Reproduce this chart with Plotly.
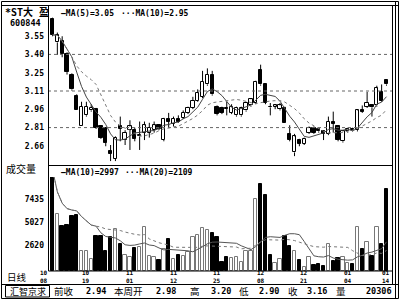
import plotly.graph_objects as go
import pandas as pd

# ---------------- data ----------------
opens = [3.69, 3.50, 3.51, 3.41, 3.24, 3.07, 2.82, 2.91, 2.95, 2.96,
         2.82, 2.81, 2.62, 2.56, 2.82, 2.71, 2.79, 2.79, 2.74, 2.77,
         2.77, 2.79, 2.83, 2.71, 2.88, 2.84, 2.88, 2.89, 2.93, 2.97,
         3.03, 3.06, 3.16, 3.24, 2.98, 2.97, 2.97, 2.93, 2.91, 2.91,
         2.95, 2.99, 3.01, 3.28, 3.16, 2.98, 2.98, 2.96, 2.97, 2.76,
         2.61, 2.71, 2.68, 2.77, 2.81, 2.80, 2.78, 2.76, 2.86, 2.82,
         2.70, 2.78, 2.80, 2.79, 2.95, 2.98, 2.99, 2.99, 3.10, 3.20]
highs = [3.70, 3.58, 3.55, 3.42, 3.25, 3.08, 3.02, 3.02, 3.00, 2.97,
         2.83, 2.81, 2.67, 2.74, 2.90, 2.79, 2.87, 2.81, 2.86, 2.86,
         2.85, 2.86, 2.84, 2.89, 2.93, 2.90, 2.91, 2.95, 2.98, 3.06,
         3.12, 3.27, 3.29, 3.27, 2.99, 2.98, 3.02, 3.00, 2.98, 2.98,
         3.02, 3.05, 3.19, 3.32, 3.17, 3.01, 3.00, 3.01, 2.98, 2.83,
         2.76, 2.72, 2.73, 2.82, 2.82, 2.81, 2.79, 2.90, 2.94, 2.83,
         2.79, 2.81, 2.81, 2.96, 2.99, 3.10, 3.00, 3.15, 3.16, 3.20]
lows = [3.55, 3.40, 3.38, 3.24, 3.11, 2.95, 2.82, 2.90, 2.94, 2.80,
        2.72, 2.66, 2.54, 2.54, 2.70, 2.67, 2.63, 2.70, 2.63, 2.71,
        2.73, 2.77, 2.79, 2.70, 2.81, 2.82, 2.85, 2.88, 2.92, 2.96,
        3.02, 3.05, 3.15, 3.07, 2.91, 2.92, 2.91, 2.92, 2.90, 2.90,
        2.94, 2.98, 3.00, 3.15, 3.00, 2.91, 2.96, 2.95, 2.85, 2.70,
        2.58, 2.66, 2.67, 2.76, 2.76, 2.77, 2.71, 2.75, 2.77, 2.70,
        2.69, 2.77, 2.78, 2.78, 2.93, 2.97, 2.90, 2.98, 3.02, 3.15]
closes = [3.56, 3.56, 3.41, 3.26, 3.12, 2.95, 2.98, 2.98, 2.97, 2.81,
          2.73, 2.69, 2.60, 2.73, 2.80, 2.77, 2.82, 2.72, 2.75, 2.83,
          2.81, 2.83, 2.80, 2.88, 2.86, 2.88, 2.86, 2.93, 2.97, 3.03,
          3.09, 3.18, 3.24, 3.08, 2.92, 2.93, 2.965, 2.98, 2.97, 2.97,
          3.01, 3.04, 3.18, 3.16, 3.01, 2.975, 2.99, 2.99, 2.85, 2.71,
          2.74, 2.68, 2.72, 2.81, 2.77, 2.78, 2.76, 2.86, 2.84, 2.71,
          2.78, 2.80, 2.79, 2.95, 2.94, 3.01, 2.975, 3.13, 3.03, 3.16]
volumes = [10500, 5890, 4650, 4790, 5690, 5790, 2100, 2070, 1270, 3620,
           3620, 2100, 3550, 4340, 2790, 1650, 1450, 2410, 2480, 4550,
           1550, 1480, 1140, 2310, 3340, 1270, 1690, 1600, 1960, 3520,
           3770, 4450, 4240, 3960, 3520, 930, 1480, 1340, 1450, 930,
           2120, 2120, 7440, 9000, 7910, 1650, 830, 1270, 3620, 2590,
           2100, 1140, 410, 1450, 620, 720, 520, 2790, 1070, 1340,
           1450, 830, 720, 4550, 2270, 3000, 1550, 4550, 2790, 8480]

price_tick_vals = [3.551, 3.403, 3.255, 3.107, 2.959, 2.811, 2.663]
price_tick_text = ["3.55", "3.40", "3.25", "3.11", "2.96", "2.81", "2.66"]
price_grid_levels = [3.403, 3.107, 2.811]
vol_tick_vals = [2620, 5027, 7435]
vol_tick_text = ["2620", "5027", "7435"]
date_pos = [7, 16, 25, 34, 43, 52, 61, 69]
date_month = ["10", "11", "11", "11", "12", "12", "01", "01"]
date_day = ["19", "01", "12", "25", "08", "21", "04", "14"]
first_date = ["10", "08"]   # drawn left of the first bar, at the panel edge

stock_name = "*ST大 盈"
stock_code = "600844"
ma_price_labels = ["—MA(5)=3.05", "···MA(10)=2.95"]
vol_title = "成交量"
ma_vol_labels = ["—MA(10)=2997", "···MA(20)=2109"]
period_label = "日线"
status_box = "汇智京求"
status_labels = ["前收", "本周开", "高", "低", "收", "量"]
status_values = ["2.94", "2.98", "3.20", "2.90", "3.16", "20306"]

# ---------------- derived ----------------
n = len(closes)
idx = list(range(n))
cs = pd.Series(closes)
vs = pd.Series(volumes)
ma5 = cs.rolling(5, min_periods=1).mean()
ma10 = cs.rolling(10, min_periods=1).mean()
vma10 = vs.rolling(10, min_periods=1).mean()
vma20 = vs.rolling(20, min_periods=1).mean()

W, H = 400, 300
MONO = "DejaVu Sans Mono"
CJK = "Noto Sans CJK SC"
px_x = lambda v: v / W
px_y = lambda v: 1 - v / H

fig = go.Figure()

# wicks (segments outside the body)
wx, wy = [], []
for i in idx:
    lo_b = min(opens[i], closes[i]); hi_b = max(opens[i], closes[i])
    if lows[i] < lo_b:
        wx += [i, i, None]; wy += [lows[i], lo_b, None]
    if highs[i] > hi_b:
        wx += [i, i, None]; wy += [hi_b, highs[i], None]
fig.add_trace(go.Scatter(x=wx, y=wy, mode="lines", line=dict(color="black", width=1),
                         hoverinfo="skip", showlegend=False, xaxis="x", yaxis="y"))

up = [i for i in idx if closes[i] >= opens[i]]
dn = [i for i in idx if closes[i] < opens[i]]
for sel, fill, edge in [(up, "white", "black"), (dn, "black", "black")]:
    fig.add_trace(go.Bar(
        x=sel,
        base=[min(opens[i], closes[i]) for i in sel],
        y=[max(abs(closes[i] - opens[i]), 0.005) for i in sel],
        width=0.68, marker=dict(color=fill, line=dict(color=edge, width=1)),
        showlegend=False, xaxis="x", yaxis="y"))

fig.add_trace(go.Scatter(x=idx, y=ma5, mode="lines", line=dict(color="#444", width=1),
                         showlegend=False, xaxis="x", yaxis="y"))
fig.add_trace(go.Scatter(x=idx, y=ma10, mode="lines", line=dict(color="#777", width=1, dash="dot"),
                         showlegend=False, xaxis="x", yaxis="y"))

# volume
for sel, fill, edge in [(up, "white", "#777"), (dn, "black", "black")]:
    fig.add_trace(go.Bar(x=sel, y=[volumes[i] for i in sel], width=0.7,
                         marker=dict(color=fill, line=dict(color=edge, width=1)),
                         showlegend=False, xaxis="x2", yaxis="y2"))
fig.add_trace(go.Scatter(x=idx, y=vma10, mode="lines", line=dict(color="#555", width=1),
                         showlegend=False, xaxis="x2", yaxis="y2"))
fig.add_trace(go.Scatter(x=idx, y=vma20, mode="lines", line=dict(color="#777", width=1, dash="dot"),
                         showlegend=False, xaxis="x2", yaxis="y2"))

XR = [-0.93, 70.14]
XD = [48 / W, 392 / W]
tickfont = dict(family=MONO, size=8, color="black", weight="bold")
fig.update_layout(
    width=W, height=H, autosize=False,
    margin=dict(l=0, r=0, t=0, b=0),
    paper_bgcolor="white", plot_bgcolor="white",
    barmode="overlay", bargap=0,
    xaxis=dict(domain=XD, range=XR, showticklabels=False, showgrid=False, zeroline=False,
               ticks="", anchor="y"),
    yaxis=dict(domain=[px_y(165), px_y(6)], range=[2.5083, 3.7947], tickvals=price_tick_vals,
               ticktext=price_tick_text, showgrid=False, zeroline=False, ticks="",
               tickfont=tickfont, ticklabelstandoff=3, anchor="x"),
    xaxis2=dict(domain=XD, range=XR, showticklabels=False, showgrid=False, zeroline=False,
                ticks="", anchor="y2"),
    yaxis2=dict(domain=[px_y(271), px_y(177)], range=[0, 9720], tickvals=vol_tick_vals,
                ticktext=vol_tick_text, showgrid=False, zeroline=False, ticks="",
                tickfont=tickfont, ticklabelstandoff=3, anchor="x2"),
)

shapes = []
def pline(x0, y0, x1, y1, color="black", width=1, dash=None):
    shapes.append(dict(type="line", xref="paper", yref="paper", x0=px_x(x0), y0=px_y(y0),
                       x1=px_x(x1), y1=px_y(y1), line=dict(color=color, width=width, dash=dash)))

for g in price_grid_levels:
    shapes.append(dict(type="line", xref="paper", yref="y", x0=XD[0], x1=XD[1], y0=g, y1=g,
                       line=dict(color="#666", width=1, dash="dot")))
# frames
pline(48.5, 5.5, 48.5, 271)
pline(392.5, 5.5, 392.5, 284.5)
pline(48.5, 165.5, 392.5, 165.5)
pline(48.5, 271, 392.5, 271)
pline(1.5, 1.5, 398.5, 1.5)
pline(1.5, 5.5, 398.5, 5.5)
pline(1.5, 1.5, 1.5, 298.5)
pline(398.5, 1.5, 398.5, 298.5)
pline(395.5, 1.5, 395.5, 298.5)
pline(1.5, 298.5, 398.5, 298.5)
pline(1.5, 284.5, 398.5, 284.5)
shapes.append(dict(type="rect", xref="paper", yref="paper", x0=px_x(5.5), x1=px_x(49.5),
                   y0=px_y(285.5), y1=px_y(297), line=dict(color="black", width=1)))
fig.update_layout(shapes=shapes)

anns = []
def ann(text, x, y, size=8.5, family=MONO, xanchor="left", weight="bold", xref="paper"):
    anns.append(dict(text=text, x=(x if xref != "paper" else px_x(x)), y=px_y(y), xref=xref,
                     yref="paper", xanchor=xanchor, yanchor="middle", showarrow=False,
                     borderpad=0,
                     font=dict(family=family, size=size, color="black", weight=weight)))

ann(stock_name, 4, 12, size=10, family=MONO + ", " + CJK)
ann(stock_code, 9, 23, size=8.5)
ann(ma_price_labels[0], 60, 13, size=8)
ann(ma_price_labels[1], 190, 13, size=8, xanchor="right")
ann(vol_title, 5, 168, size=10, family=CJK, weight="normal")
ann(ma_vol_labels[0], 60, 172, size=8)
ann(ma_vol_labels[1], 194, 172, size=8, xanchor="right")
ann(period_label, 6, 276.5, size=9.5, family=CJK, weight="normal")
ann(first_date[0] + "<br>" + first_date[1], 44, 276, size=6, xanchor="center")
for p, m, d in zip(date_pos, date_month, date_day):
    ann(m + "<br>" + d, p, 276, size=6, xanchor="center", xref="x2")

ann(status_box, 27.5, 291.3, size=9, family=CJK, xanchor="center", weight="normal")
label_x = [53, 113, 189, 238, 287, 335]
value_right = [107, 177, 232, 280, 328, 393]
for lab, lx in zip(status_labels, label_x):
    ann(lab, lx, 291.3, size=9.5, family=CJK, weight="normal")
for val, rx in zip(status_values, value_right):
    ann(val, rx, 291.3, size=8.5, xanchor="right")
fig.update_layout(annotations=anns)

fig.write_html("out.html")
